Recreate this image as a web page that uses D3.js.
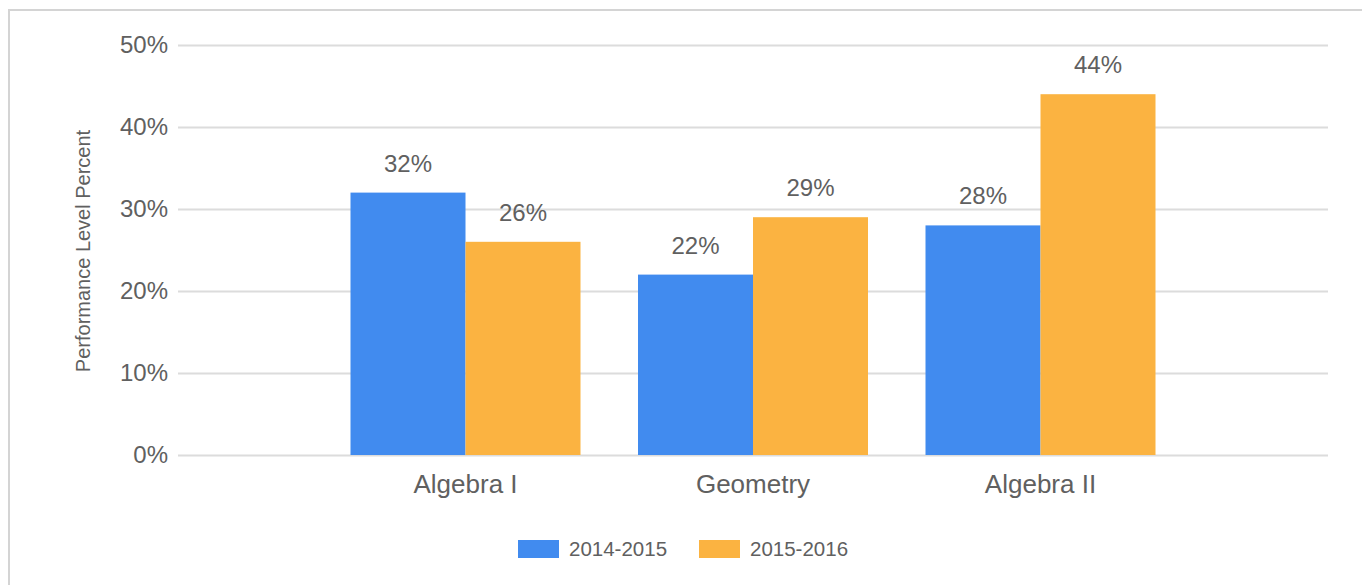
<!DOCTYPE html>
<html>
<head>
<meta charset="utf-8">
<script src="https://cdn.jsdelivr.net/npm/d3@7"></script>
<style>
  body { margin: 0; background: #fff; }
  text { font-family: Arial, "Liberation Sans", sans-serif; }
</style>
</head>
<body>
<script>
// chart data
var categories = ["Algebra I", "Geometry", "Algebra II"];
var seriesNames = ["2014-2015", "2015-2016"];
var values2014 = [32, 22, 28];
var values2015 = [26, 29, 44];
var yTicks = [0, 10, 20, 30, 40, 50];

var colors = ["#418bef", "#fbb341"];
var textColor = "#606060";
var gridColor = "#dcdcdc";

var w = 1362, h = 585;
var plotLeft = 178, plotRight = 1328, plotTop = 45, plotBottom = 455;

var svg = d3.select("body").append("svg")
    .attr("width", w)
    .attr("height", h);

// outer frame (only top and left edges visible)
svg.append("path")
    .attr("d", "M9," + h + "V10H" + w)
    .attr("fill", "none")
    .attr("stroke", "#d4d4d4")
    .attr("stroke-width", 2);

var yScale = d3.scaleLinear().domain([0, 50]).range([plotBottom, plotTop]);
var xScale = d3.scaleBand().domain(categories).range([plotLeft, plotRight])
    .paddingInner(0.2).paddingOuter(0.6);
var subScale = d3.scaleBand().domain(seriesNames).range([0, xScale.bandwidth()]);

// gridlines + tick labels
var yAxis = d3.axisLeft(yScale)
    .tickValues(yTicks)
    .tickSize(-(plotRight - plotLeft))
    .tickPadding(10)
    .tickFormat(function (d) { return d + "%"; });
var gy = svg.append("g")
    .attr("transform", "translate(" + plotLeft + ",0)")
    .call(yAxis);
gy.select(".domain").remove();
gy.selectAll(".tick line").attr("stroke", gridColor).attr("stroke-width", 2);
gy.selectAll(".tick text")
    .attr("x", -10)
    .attr("fill", textColor)
    .attr("font-size", "24px");

// y title
svg.append("text")
    .attr("transform", "translate(90," + ((plotTop + plotBottom) / 2 + 1) + ") rotate(-90)")
    .attr("text-anchor", "middle")
    .attr("font-size", "20px")
    .attr("fill", textColor)
    .text("Performance Level Percent");

// bars
var series = [values2014, values2015];
series.forEach(function (vals, s) {
    var g = svg.append("g");
    g.selectAll("rect")
        .data(vals)
        .enter()
        .append("rect")
        .attr("x", function (d, i) { return xScale(categories[i]) + subScale(seriesNames[s]); })
        .attr("y", function (d) { return yScale(d); })
        .attr("width", subScale.bandwidth())
        .attr("height", function (d) { return plotBottom - yScale(d); })
        .attr("fill", colors[s]);
    g.selectAll("text")
        .data(vals)
        .enter()
        .append("text")
        .attr("x", function (d, i) { return xScale(categories[i]) + subScale(seriesNames[s]) + subScale.bandwidth() / 2; })
        .attr("y", function (d) { return yScale(d) - 21; })
        .attr("text-anchor", "middle")
        .attr("font-size", "24px")
        .attr("fill", textColor)
        .text(function (d) { return d + "%"; });
});

// category labels
var xAxis = d3.axisBottom(xScale).tickSize(0).tickPadding(0);
var gx = svg.append("g")
    .attr("transform", "translate(0," + plotBottom + ")")
    .call(xAxis);
gx.select(".domain").remove();
gx.selectAll(".tick text")
    .attr("y", 38)
    .attr("dy", 0)
    .attr("fill", textColor)
    .attr("font-size", "26px");

// legend
var legendX = [518, 699];
var legend = svg.append("g");
seriesNames.forEach(function (name, s) {
    legend.append("rect")
        .attr("x", legendX[s])
        .attr("y", 540)
        .attr("width", 41)
        .attr("height", 18)
        .attr("fill", colors[s]);
    legend.append("text")
        .attr("x", legendX[s] + 51)
        .attr("y", 556)
        .attr("font-size", "20.5px")
        .attr("fill", textColor)
        .text(name);
});
</script>
</body>
</html>
